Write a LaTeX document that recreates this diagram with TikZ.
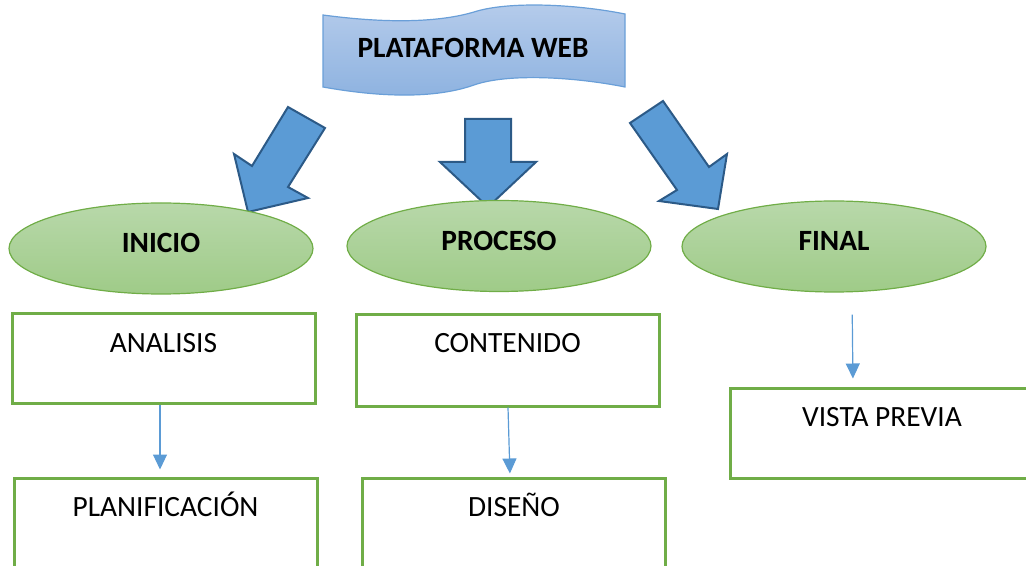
\documentclass[tikz,border=0pt]{standalone}
\usepackage{fontspec}
\setmainfont{Carlito}
\usepackage{xcolor}
\usetikzlibrary{arrows.meta,shapes.geometric}
\definecolor{verdeborde}{HTML}{70AD47}
\definecolor{verdearriba}{HTML}{B8D8AA}
\definecolor{verdeabajo}{HTML}{9FCB88}
\definecolor{azulflecha}{HTML}{5B9BD5}
\definecolor{azuloscuro}{HTML}{2C5A87}
\definecolor{azularriba}{HTML}{B6CCEB}
\definecolor{azulabajo}{HTML}{8DB2E0}
\definecolor{azulborde}{HTML}{6A9FD8}

\begin{document}
\begin{tikzpicture}[x=0.5pt,y=-0.5pt,font=\fontsize{14.7}{17}\selectfont,
  etapa/.style={ellipse,draw=verdeborde,line width=0.6pt,top color=verdearriba,bottom color=verdeabajo,
    minimum width=152pt,minimum height=45.5pt,inner sep=0pt,text height=9.5pt,text depth=5pt,font=\fontsize{14.7}{17}\selectfont\bfseries},
  caja/.style={draw=verdeborde,line width=1.5pt,minimum width=151.5pt,minimum height=45pt,inner sep=0pt},
  bloque/.style={fill=azulflecha,draw=azuloscuro,line width=1pt,line join=miter},
  enlace/.style={-{Triangle[length=7.5pt,width=7pt]},draw=azulflecha,line width=0.6pt}]
\clip (0,0) rectangle (1026,566);
\path[draw=azulborde,line width=0.6pt,top color=azularriba,bottom color=azulabajo]
  (323,15) .. controls (390,24) and (440,22) .. (474,12) .. controls (508,1) and (575,4) .. (625,14)
  -- (625,87) .. controls (575,77) and (508,73) .. (474,85) .. controls (440,97) and (390,99) .. (323,87) -- cycle;
\node[font=\fontsize{14.7}{17}\selectfont\bfseries] (web) at (473,48) {PLATAFORMA WEB};
\draw[bloque] (288,107)--(325,128)--(288,187)--(308,198)--(248,212)--(234,154)--(252,166)--cycle;
\draw[bloque] (465,119)--(511,119)--(511,162)--(536,162)--(488,207)--(440,162)--(465,162)--cycle;
\draw[bloque] (630,123)--(663,101)--(709,167)--(727,154)--(718,209)--(659,201)--(677,190)--cycle;
\node[etapa] (inicio) at (161,248.5) {INICIO};
\node[etapa] (proceso) at (499,246) {PROCESO};
\node[etapa] (final) at (834,246.5) {FINAL};
\node[caja,label={[anchor=base,yshift=-20pt]north:ANALISIS}] (analisis) at (163.5,358.5) {};
\node[caja,label={[anchor=base,yshift=-20pt]north:PLANIFICACIÓN}] (planificacion) at (165.5,523) {};
\node[caja,minimum height=46pt,label={[anchor=base,yshift=-20pt]north:CONTENIDO}] (contenido) at (507.5,360) {};
\node[caja,label={[anchor=base,yshift=-20pt]north:DISEÑO}] (diseno) at (514,523) {};
\node[caja,label={[anchor=base,yshift=-20pt]north:VISTA PREVIA}] (vista) at (882,433) {};
\draw[enlace,shorten >=3.5pt] ([xshift=-1.75pt]analisis.south)--([xshift=-2.75pt]planificacion.north);
\draw[enlace,shorten >=1.5pt] ([xshift=0.25pt]contenido.south)--([xshift=-2pt]diseno.north);
\draw[enlace,shorten <=11pt,shorten >=4pt] ([xshift=9pt]final.south)--([xshift=-14.5pt]vista.north);
\end{tikzpicture}
\end{document}
